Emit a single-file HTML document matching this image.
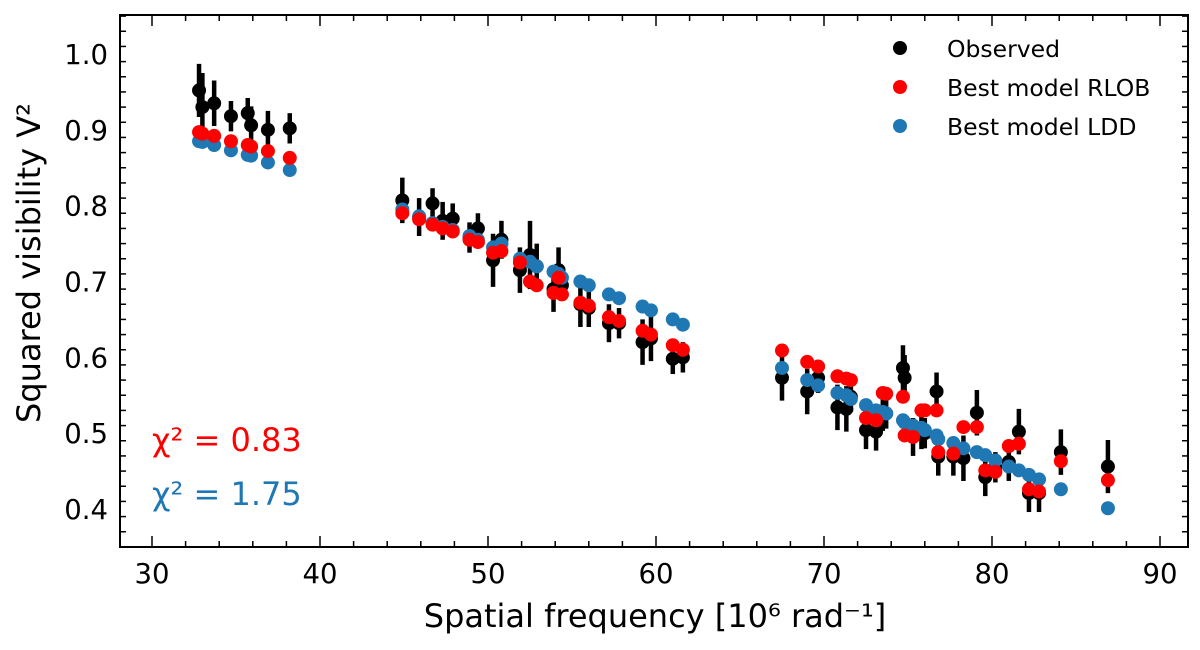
<!DOCTYPE html>
<html><head><meta charset="utf-8"><style>
body{margin:0;background:#fff;font-family:"Liberation Sans","DejaVu Sans",sans-serif}
svg text{font-family:"DejaVu Sans","Liberation Sans",sans-serif}
</style></head><body>
<svg id="chart" width="1200" height="645" viewBox="0 0 1200 645" xmlns="http://www.w3.org/2000/svg">
<rect x="0" y="0" width="1200" height="645" fill="#fff"/>
<g id="marks"></g>
<rect x="120" y="15" width="1068" height="532" fill="none" stroke="#000" stroke-width="2"/>
<g id="axes"></g>
<text x="655" y="627" font-size="32" text-anchor="middle">Spatial frequency [10⁶ rad⁻¹]</text>
<text transform="translate(40,263) rotate(-90)" font-size="32" text-anchor="middle">Squared visibility V²</text>
<g>
<circle cx="900" cy="48" r="7" fill="#000"/>
<text x="947" y="57" font-size="23.5">Observed</text>
<circle cx="900" cy="87" r="7" fill="#ff0000"/>
<text x="947" y="96" font-size="23.5">Best model RLOB</text>
<circle cx="900" cy="126" r="7" fill="#1f77b4"/>
<text x="947" y="135" font-size="23.5">Best model LDD</text>
</g>
<text x="152" y="451" font-size="32" fill="#ff0000">χ² = 0.83</text>
<text x="152" y="505" font-size="32" fill="#1f77b4">χ² = 1.75</text>
</svg>
<script>
const freq=[32.8,33.0,33.7,34.7,35.7,35.9,36.9,38.2,
44.9,45.9,46.7,47.3,47.9,48.9,49.4,50.3,50.8,51.9,52.5,52.9,53.9,54.2,54.4,55.5,56.0,57.2,57.8,59.2,59.7,61.0,61.6,
67.5,69.0,69.65,70.8,71.33,71.6,72.5,73.1,73.5,73.7,74.7,74.8,75.3,75.8,76.0,76.7,76.8,77.7,78.3,79.1,79.6,80.2,81.0,81.6,82.2,82.8,84.1,86.9];
const observed=[0.952,0.93,0.935,0.918,0.922,0.906,0.90,0.902,
0.807,0.785,0.803,0.78,0.783,0.758,0.77,0.728,0.755,0.715,0.735,0.72,0.69,0.715,0.695,0.67,0.665,0.645,0.645,0.62,0.625,0.598,0.60,
0.573,0.555,0.573,0.534,0.532,0.548,0.504,0.502,0.528,0.526,0.586,0.573,0.495,0.504,0.50,0.555,0.469,0.469,0.467,0.527,0.442,0.455,0.462,0.502,0.421,0.421,0.475,0.456];
const errors=[0.035,0.045,0.03,0.02,0.02,0.025,0.025,0.02,
0.03,0.025,0.02,0.025,0.02,0.02,0.02,0.035,0.025,0.03,0.045,0.03,0.03,0.03,0.02,0.03,0.025,0.025,0.02,0.03,0.03,0.02,0.02,
0.03,0.03,0.02,0.03,0.03,0.02,0.025,0.025,0.025,0.02,0.03,0.03,0.025,0.025,0.02,0.025,0.025,0.025,0.03,0.03,0.025,0.02,0.025,0.03,0.025,0.025,0.03,0.035];
const rlob=[0.897,0.895,0.892,0.885,0.88,0.878,0.872,0.863,
0.79,0.782,0.775,0.77,0.766,0.755,0.752,0.738,0.74,0.725,0.70,0.695,0.685,0.705,0.683,0.672,0.668,0.653,0.648,0.635,0.63,0.616,0.61,
0.609,0.594,0.588,0.575,0.572,0.57,0.52,0.517,0.553,0.552,0.548,0.497,0.495,0.53,0.53,0.53,0.475,0.473,0.508,0.508,0.451,0.449,0.483,0.486,0.426,0.423,0.463,0.438];
const ldd=[0.885,0.884,0.88,0.873,0.867,0.866,0.857,0.847,
0.795,0.786,0.777,0.772,0.768,0.76,0.755,0.745,0.75,0.73,0.726,0.72,0.713,0.71,0.705,0.70,0.695,0.683,0.678,0.667,0.662,0.65,0.643,
0.586,0.57,0.563,0.553,0.55,0.545,0.537,0.53,0.528,0.526,0.517,0.514,0.51,0.507,0.504,0.497,0.492,0.487,0.48,0.475,0.471,0.464,0.456,0.451,0.445,0.439,0.426,0.401];
const xTicks=[30,40,50,60,70,80,90];
const yTicks=[0.4,0.5,0.6,0.7,0.8,0.9,1.0];
const X=v=>152+(v-30)*16.8;
const Y=v=>509-(v-0.4)*758.3;
const NS="http://www.w3.org/2000/svg";
const marks=document.getElementById('marks'), axes=document.getElementById('axes');
function mk(tag,attrs,parent){const e=document.createElementNS(NS,tag);for(const k in attrs)e.setAttribute(k,attrs[k]);parent.appendChild(e);return e;}
for(let i=0;i<freq.length;i++){
  const l=mk('line',{x1:X(freq[i]),x2:X(freq[i]),y1:Y(observed[i]-errors[i]),y2:Y(observed[i]+errors[i]),stroke:'#000','stroke-width':4.5},marks);
  
  
  const c=mk('circle',{cx:X(freq[i]),cy:Y(observed[i]),r:7,fill:'#000'},marks);
  
  
}
for(let i=0;i<freq.length;i++){
  const c=mk('circle',{cx:X(freq[i]),cy:Y(ldd[i]),r:7,fill:'#1f77b4'},marks);
  
  
}
for(let i=0;i<freq.length;i++){
  const c=mk('circle',{cx:X(freq[i]),cy:Y(rlob[i]),r:7,fill:'#ff0000'},marks);
  
  
}
for(let v=28;v<=95;v+=2){const x=X(v);if(x<=120||x>=1188)continue;const major=v%10===0;const L=major?11:6;
  mk('line',{x1:x,x2:x,y1:547,y2:547-L,stroke:'#000','stroke-width':1.5},axes);
  mk('line',{x1:x,x2:x,y1:15,y2:15+L,stroke:'#000','stroke-width':1.5},axes);}
xTicks.forEach(v=>{const t=mk('text',{x:X(v),y:583,'font-size':27.5,'text-anchor':'middle'},axes);t.textContent=v;
  
  });
for(let k=0;k<=40;k++){const v=0.35+k*0.02;const y=Y(v);if(y<=15||y>=547)continue;const major=Math.round(v*100)%10===0;const L=major?11:6;
  mk('line',{x1:120,x2:120+L,y1:y,y2:y,stroke:'#000','stroke-width':1.5},axes);
  mk('line',{x1:1188,x2:1188-L,y1:y,y2:y,stroke:'#000','stroke-width':1.5},axes);}
yTicks.forEach(v=>{const t=mk('text',{x:108,y:Y(v)+10,'font-size':27.5,'text-anchor':'end'},axes);t.textContent=v.toFixed(1);
  
  });
</script>
</body></html>
